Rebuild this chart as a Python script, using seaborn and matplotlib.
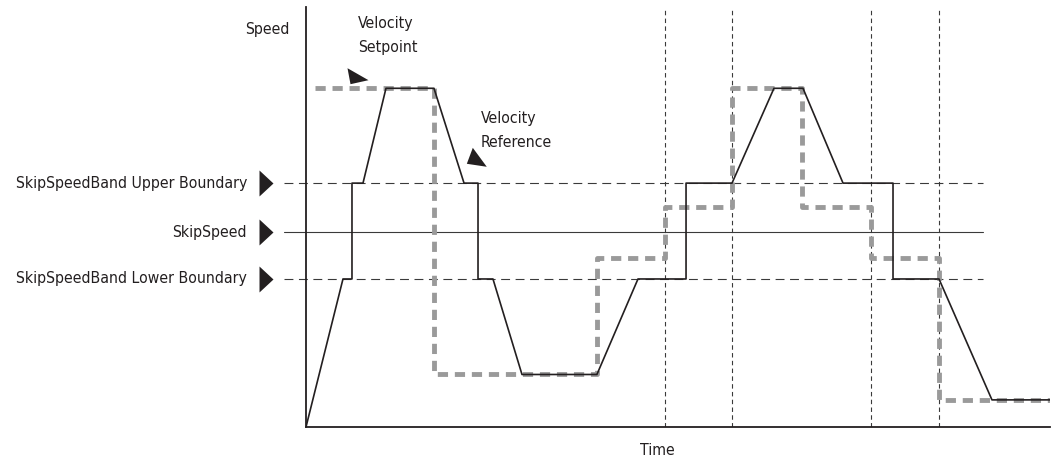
import matplotlib
matplotlib.use('Agg')
import matplotlib.pyplot as plt
import seaborn as sns
import numpy as np

# time axis 0..100, speed axis 0..124 (arbitrary units)
sp_time = [1.2, 17.2, 17.2, 39.1, 39.1, 48.25, 48.25, 57.26, 57.26, 66.67,
           66.67, 75.94, 75.94, 85.08, 85.08, 100]
sp_speed = [100, 100, 15.5, 15.5, 50, 50, 65, 65, 100, 100,
            65, 65, 50, 50, 8, 8]

ref_time = [0, 4.97, 6.18, 6.18, 7.66, 10.75, 17.2, 21.24, 23.12, 23.12,
            25.13, 29.03, 39.1, 44.62, 51.08, 51.08, 57.26, 62.9, 66.8,
            72.18, 78.9, 78.9, 85.08, 92.2, 100]
ref_speed = [0, 43.7, 43.7, 72, 72, 100, 100, 72, 72, 43.7,
             43.7, 15.5, 15.5, 43.7, 43.7, 72, 72, 100, 100,
             72, 72, 43.7, 43.7, 8, 8]

band_names = ['SkipSpeedBand Upper Boundary', 'SkipSpeed', 'SkipSpeedBand Lower Boundary']
band_levels = [72, 57.5, 43.7]
band_styles = [(0, (8, 5)), '-', (0, (8, 5))]

event_times = [48.25, 57.26, 75.94, 85.08]

sns.set_style('white')
plt.rcParams['font.family'] = ['DejaVu Sans']
plt.rcParams['font.stretch'] = 'condensed'
plt.rcParams['font.size'] = 11.3

fig = plt.figure(figsize=(10.55, 4.61), dpi=100)
ax = fig.add_axes([0.29005, 0.0738, 0.70521, 0.9110])
ax.set_xlim(0, 100)
ax.set_ylim(0, 124)

ink = '#231f20'

# band lines
for name, lvl, ls in zip(band_names, band_levels, band_styles):
    ax.plot([-2.96, 91.0], [lvl, lvl], color='#3a3a3a', lw=0.8, linestyle=ls, clip_on=False)
    ax.text(-7.93, lvl, name, ha='right', va='center', color=ink)
    ax.plot([-5.44], [lvl], marker=[(-7, 13), (-7, -13), (7, 0)], ms=18.7,
            color=ink, mec='none', clip_on=False)

for t in event_times:
    ax.axvline(t, color='#3a3a3a', lw=0.8, linestyle=(0, (4, 3)))

sns.lineplot(x=sp_time, y=sp_speed, estimator=None, sort=False, ax=ax,
             color='#9a9a9a', lw=3.5, linestyle=(0, (2.1, 1.4)),
             dash_capstyle='butt')
sns.lineplot(x=ref_time, y=ref_speed, estimator=None, sort=False, ax=ax,
             color=ink, lw=1.2)

# labels with pointers
ax.text(7.0, 115.5, 'Velocity\nSetpoint', ha='left', va='center', linespacing=1.75, color=ink)
ax.plot([6.59], [103.2], marker=[(-8, 9.3), (-5, -6.7), (13, -2.7)], ms=18.7,
        color=ink, mec='none')
ax.text(23.5, 87.5, 'Velocity\nReference', ha='left', va='center', linespacing=1.75, color=ink)
ax.plot([22.67], [79.1], marker=[(-2.7, 11.7), (-8.7, -4.3), (11.3, -7.3)], ms=16.8,
        color=ink, mec='none')

ax.text(-2.28, 117.3, 'Speed', ha='right', va='center', color=ink, clip_on=False)
ax.set_xlabel('Time', color=ink)
ax.xaxis.set_label_coords(0.472, -0.038)
ax.set_ylabel('')

sns.despine(ax=ax)
for s in ['left', 'bottom']:
    ax.spines[s].set_color(ink)
    ax.spines[s].set_linewidth(1.3)
ax.set_xticks([])
ax.set_yticks([])

fig.savefig('out.png', dpi=100)
plt.close(fig)
